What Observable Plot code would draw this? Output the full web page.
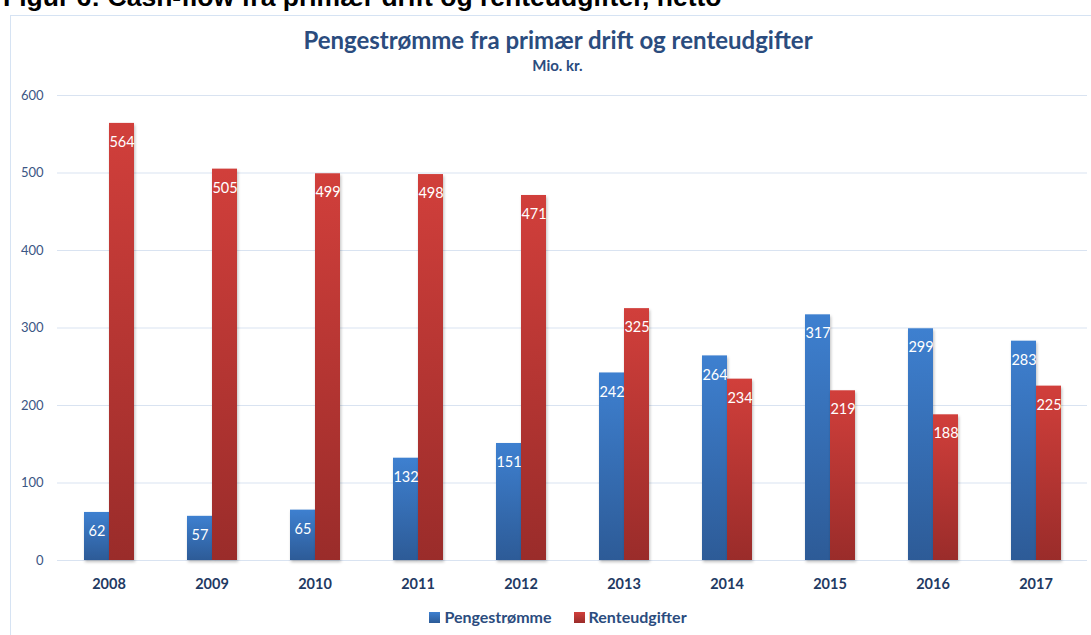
<!DOCTYPE html>
<html><head><meta charset="utf-8">
<script src="https://cdn.jsdelivr.net/npm/d3@7"></script>
<script src="https://cdn.jsdelivr.net/npm/@observablehq/plot@0.6"></script>
<style>
body{margin:0;background:#fff;width:1091px;height:635px;overflow:hidden;position:relative;font-family:Lato,"Open Sans",sans-serif}
#heading{position:absolute;left:3px;top:-16px;font-family:"Liberation Sans",Arial,sans-serif;font-weight:bold;font-size:26.5px;line-height:26.5px;color:#000;white-space:nowrap}
#box{position:absolute;left:10px;top:15px;width:1100px;height:640px;border:1px solid #D6E3F3;box-sizing:border-box}
#title{position:absolute;left:0;width:1116px;top:26px;text-align:center;font-weight:bold;font-size:24px;line-height:1.2;color:#2B4C7E;white-space:nowrap}
#subtitle{position:absolute;left:0;width:1115px;top:56px;text-align:center;font-weight:bold;font-size:15px;line-height:1.2;color:#2B4C7E}
#chart{position:absolute;left:0;top:0}
#legend{position:absolute;left:0;width:1116px;top:607px;text-align:center;font-weight:bold;font-size:16px;color:#2B4C7E;white-space:nowrap}
#legend span.sw{display:inline-block;width:11px;height:11px;margin-right:4px;vertical-align:0px}
#legend span.item{margin:0 11px}
</style></head><body>
<div id="heading">Figur 6: Cash-flow fra primær drift og renteudgifter, netto</div>
<div id="box"></div>
<div id="chart"></div>
<div id="title">Pengestrømme fra primær drift og renteudgifter</div>
<div id="subtitle">Mio. kr.</div>
<div id="legend"></div>
<script>
const years = ["2008","2009","2010","2011","2012","2013","2014","2015","2016","2017"];
const pengestromme = [62, 57, 65, 132, 151, 242, 264, 317, 299, 283];
const renteudgifter = [564, 505, 499, 498, 471, 325, 234, 219, 188, 225];
const seriesNames = ["Pengestrømme", "Renteudgifter"];
const yTicks = [0, 100, 200, 300, 400, 500, 600];
const gradients = {
  "Pengestrømme": ["#3E80D0", "#2D5B97"],
  "Renteudgifter": ["#D13F3B", "#9A2C2A"]
};

const data = years.flatMap((y, i) => [
  {year: y, series: seriesNames[0], value: pengestromme[i]},
  {year: y, series: seriesNames[1], value: renteudgifter[i]}
]);

const gid = s => s === seriesNames[0] ? "gradBlue" : "gradRed";

const plot = Plot.plot({
  width: 1091, height: 600,
  marginLeft: 56, marginRight: 4, marginTop: 95, marginBottom: 40,
  style: {background: "transparent", overflow: "visible"},
  fx: {domain: years, padding: 0, label: null},
  x: {domain: seriesNames, paddingInner: 0, paddingOuter: 1.02, axis: null},
  y: {domain: [0, 600], label: null},
  marks: [
    Plot.gridY(yTicks, {stroke: "#D9E3F1", strokeOpacity: 1, strokeWidth: 1}),
    Plot.axisY(yTicks, {tickSize: 0, tickPadding: 14, fontSize: 13, fill: "#3B5684", label: null, fontFamily: "Lato"}),
    Plot.axisFx({anchor: "bottom", tickSize: 0, tickPadding: 18, fontSize: 14.5, fontWeight: "bold", fill: "#1F3A63", label: null, fontFamily: "Lato"}),
    ...seriesNames.map(s => Plot.barY(data.filter(d => d.series === s), {
      fx: "year", x: "series", y: "value", fill: `url(#${gid(s)})`
    })),
    Plot.text(data, {fx: "year", x: "series", y: "value", text: d => String(d.value), dy: 19, fill: "white", fontSize: 14.5, fontFamily: "Lato"})
  ]
});

const svg = d3.select(plot);
const defs = svg.insert("defs", ":first-child");
seriesNames.forEach(s => {
  const g = defs.append("linearGradient").attr("id", gid(s)).attr("x1", 0).attr("y1", 0).attr("x2", 0).attr("y2", 1);
  g.append("stop").attr("offset", "0%").attr("stop-color", gradients[s][0]);
  g.append("stop").attr("offset", "100%").attr("stop-color", gradients[s][1]);
});
svg.selectAll('g[aria-label="bar"] rect').style("filter", "drop-shadow(1px 2px 1.5px rgba(0,0,0,0.25))");
document.getElementById("chart").appendChild(plot);

const legend = document.getElementById("legend");
seriesNames.forEach(s => {
  const item = document.createElement("span");
  item.className = "item";
  const sw = document.createElement("span");
  sw.className = "sw";
  sw.style.background = `linear-gradient(${gradients[s][0]}, ${gradients[s][1]})`;
  item.appendChild(sw);
  item.appendChild(document.createTextNode(s));
  legend.appendChild(item);
});
</script>
</body></html>
